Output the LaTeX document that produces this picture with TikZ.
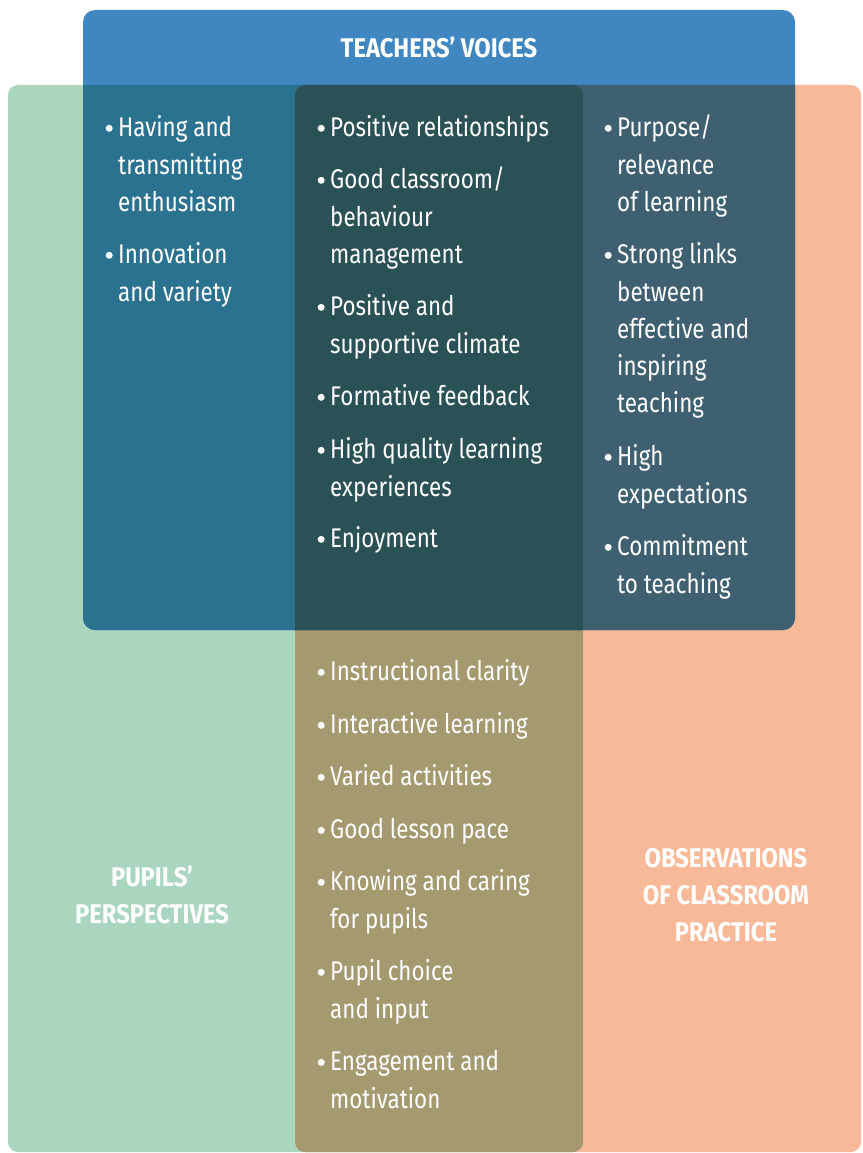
\documentclass[tikz,border=0pt]{standalone}
\usepackage{fontspec}
\setmainfont[FakeStretch=0.83]{Fira Sans}
\newfontfamily\headfont[FakeStretch=0.88]{Fira Sans}
\definecolor{pgreen}{RGB}{170,214,191}
\definecolor{porange}{RGB}{247,185,152}
\definecolor{polive}{RGB}{165,154,111}
\definecolor{pblue}{RGB}{64,134,192}
\definecolor{bgreen}{RGB}{43,114,144}
\definecolor{borange}{RGB}{62,96,113}
\definecolor{bdark}{RGB}{41,81,86}
\newcommand\bul{\strut\llap{\tikz[baseline=0pt,x=1pt,y=1pt]\fill[white] (0,8.4) circle (3.5pt);\hspace{5.5pt}}}
\begin{document}
\begin{tikzpicture}[x=1pt,y=-1pt,
  itembox/.style={anchor=north west, inner sep=0pt, align=left, text=white,
    font=\fontsize{27}{37.3}\selectfont},
  headbox/.style={inner sep=0pt, align=center, text=white,
    font=\headfont\fontsize{27}{37}\selectfont\bfseries}]
\useasboundingbox (0,0) rectangle (862,1153);
% base sets
\fill[pgreen, rounded corners=10pt] (8,85) rectangle (583,1152);
\fill[porange, rounded corners=10pt] (295,85) rectangle (861,1152);
\begin{scope}
  \clip[rounded corners=10pt] (8,85) rectangle (583,1152);
  \fill[polive, rounded corners=10pt] (295,85) rectangle (861,1152);
\end{scope}
\fill[pblue, rounded corners=12pt] (83,10) rectangle (795,630);
\begin{scope}
  \clip[rounded corners=12pt] (83,10) rectangle (795,630);
  \fill[bgreen, rounded corners=10pt] (8,85) rectangle (583,1152);
  \fill[borange, rounded corners=10pt] (295,85) rectangle (861,1152);
  \begin{scope}
    \clip[rounded corners=10pt] (8,85) rectangle (583,1152);
    \fill[bdark, rounded corners=10pt] (295,85) rectangle (861,1152);
  \end{scope}
\end{scope}
% headings
\node[headbox, anchor=base] (tv) at (439,57.5) {TEACHERS’ VOICES};
\node[headbox, anchor=north] (pp) at (152,860.4) {\strut PUPILS’\\PERSPECTIVES};
\node[headbox, anchor=north] (oc) at (726,841.4) {\strut OBSERVATIONS\\OF CLASSROOM\\PRACTICE};
% left column
\node[itembox] (l1) at (118,110.4) {\bul Having and\\transmitting\\enthusiasm};
\node[itembox] (l2) at (118,237.4) {\bul Innovation\\and variety};
% middle column
\node[itembox] (m1) at (330,110.4) {\bul Positive relationships};
\node[itembox] (m2) at (330,162.4) {\bul Good classroom/\\behaviour\\management};
\node[itembox] (m3) at (330,289.4) {\bul Positive and\\supportive climate};
\node[itembox] (m4) at (330,379.4) {\bul Formative feedback};
\node[itembox] (m5) at (330,432.4) {\bul High quality learning\\experiences};
\node[itembox] (m6) at (330,521.4) {\bul Enjoyment};
\node[itembox] (m7) at (330,654.4) {\bul Instructional clarity};
\node[itembox] (m8) at (330,707.4) {\bul Interactive learning};
\node[itembox] (m9) at (330,759.4) {\bul Varied activities};
\node[itembox] (m10) at (330,812.4) {\bul Good lesson pace};
\node[itembox] (m11) at (330,864.4) {\bul Knowing and caring\\for pupils};
\node[itembox] (m12) at (330,954.4) {\bul Pupil choice\\and input};
\node[itembox] (m13) at (330,1044.4) {\bul Engagement and\\motivation};
% right column
\node[itembox] (r1) at (617,110.4) {\bul Purpose/\\relevance\\of learning};
\node[itembox] (r2) at (617,237.4) {\bul Strong links\\between\\effective and\\inspiring\\teaching};
\node[itembox] (r3) at (617,439.4) {\bul High\\expectations};
\node[itembox] (r4) at (617,529.4) {\bul Commitment\\to teaching};
\end{tikzpicture}
\end{document}
